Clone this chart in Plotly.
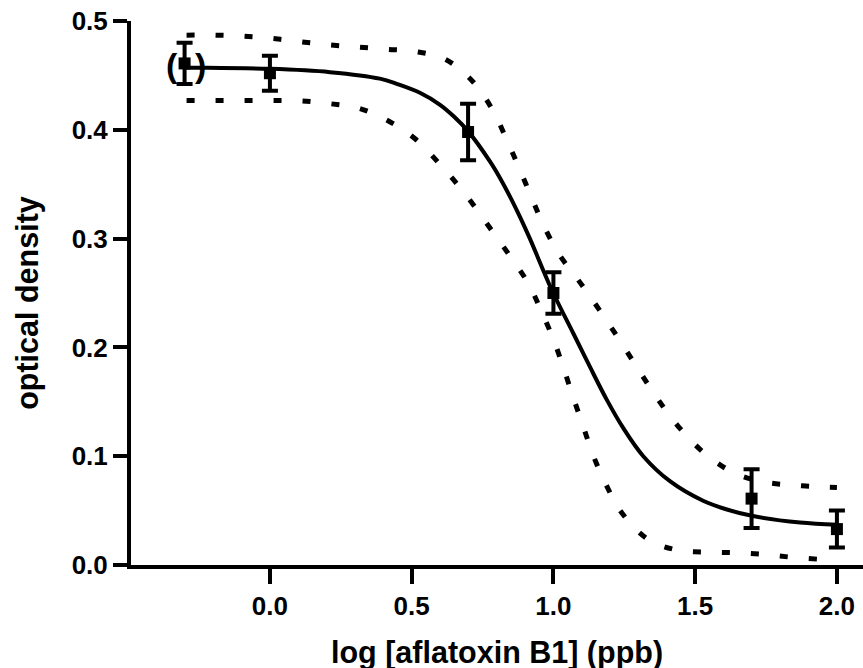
import plotly.graph_objects as go

# measured points (log concentration, mean OD, error)
pt_x = [-0.301, 0.0, 0.699, 1.0, 1.699, 2.0]
pt_y = [0.461, 0.452, 0.398, 0.250, 0.061, 0.033]
pt_err = [0.019, 0.016, 0.026, 0.019, 0.027, 0.017]

# fitted curve
fit_x = [-0.301, -0.236, 0.0, 0.212, 0.388, 0.450, 0.529, 0.600, 0.650, 0.698,
         0.776, 0.811, 0.850, 0.882, 0.917, 0.994, 1.070, 1.129, 1.188, 1.246,
         1.317, 1.411, 1.528, 1.612, 1.704, 1.870, 2.0]
fit_y = [0.457, 0.457, 0.456, 0.453, 0.447, 0.442, 0.434, 0.423, 0.412, 0.399,
         0.371, 0.356, 0.337, 0.320, 0.300, 0.253, 0.213, 0.182, 0.152, 0.126,
         0.100, 0.077, 0.059, 0.051, 0.045, 0.039, 0.037]

# upper confidence band
up_x = [-0.294, -0.194, -0.094, 0.006, 0.106, 0.212, 0.311, 0.412, 0.511, 0.617,
        0.717, 0.786, 0.835, 0.879, 0.921, 0.964, 1.019, 1.093, 1.166, 1.235,
        1.299, 1.364, 1.440, 1.536, 1.637, 1.740, 1.842, 1.944, 2.0]
up_y = [0.487, 0.487, 0.486, 0.484, 0.481, 0.478, 0.476, 0.474, 0.472, 0.465,
        0.444, 0.418, 0.391, 0.365, 0.339, 0.313, 0.286, 0.260, 0.233, 0.206,
        0.180, 0.154, 0.1275, 0.102, 0.0847, 0.0764, 0.0734, 0.0718, 0.0712]

# lower confidence band
lo_x = [-0.294, -0.194, -0.094, 0.006, 0.106, 0.212, 0.311, 0.412, 0.511, 0.611,
        0.696, 0.770, 0.844, 0.911, 0.958, 1.002, 1.037, 1.070, 1.105, 1.140,
        1.185, 1.241, 1.334, 1.435, 1.537, 1.638, 1.740, 1.842, 1.942, 2.0]
lo_y = [0.427, 0.427, 0.427, 0.427, 0.4266, 0.424, 0.420, 0.409, 0.392, 0.365,
        0.3385, 0.312, 0.285, 0.259, 0.233, 0.206, 0.180, 0.154, 0.1275, 0.101,
        0.0743, 0.048, 0.0236, 0.0138, 0.0119, 0.0113, 0.0098, 0.0071, 0.0052, 0.0045]

x_ticks = [0.0, 0.5, 1.0, 1.5, 2.0]
y_ticks = [0.0, 0.1, 0.2, 0.3, 0.4, 0.5]

FONT = "Liberation Sans, Arial, sans-serif"

fig = go.Figure()
for bx, by in [(up_x, up_y), (lo_x, lo_y)]:
    fig.add_trace(go.Scatter(x=bx, y=by, mode="lines",
                             line=dict(color="black", width=5, dash="8px,21px", shape="spline"),
                             hoverinfo="skip"))
fig.add_trace(go.Scatter(x=fit_x, y=fit_y, mode="lines",
                         line=dict(color="black", width=4, shape="spline")))
fig.add_trace(go.Scatter(x=pt_x, y=pt_y, mode="markers",
                         marker=dict(symbol="square", size=12, color="black"),
                         error_y=dict(type="data", array=pt_err, visible=True,
                                      color="black", thickness=4, width=8),
                         cliponaxis=False))

fig.add_annotation(x=pt_x[0], y=pt_y[0], text="(", showarrow=False, xshift=-13, yshift=-2,
                   font=dict(family=FONT, size=34, color="black", weight="bold"))
fig.add_annotation(x=pt_x[0], y=pt_y[0], text=")", showarrow=False, xshift=16, yshift=-2,
                   font=dict(family=FONT, size=34, color="black", weight="bold"))

fig.add_annotation(xref="paper", yref="paper", x=0.5, y=-0.16, text="log [aflatoxin B1] (ppb)",
                   showarrow=False, xanchor="center", yanchor="middle",
                   font=dict(family=FONT, size=30.5, color="black", weight="bold"))
fig.add_annotation(xref="paper", yref="paper", x=-0.1407, y=0.482, text="optical density",
                   showarrow=False, textangle=-90, xanchor="center", yanchor="middle",
                   font=dict(family=FONT, size=30.5, color="black", weight="bold"))

axis_common = dict(showgrid=False, zeroline=False, showline=True, linecolor="black",
                   linewidth=4, ticks="outside", tickwidth=4, tickcolor="black",
                   tickfont=dict(family=FONT, size=26, color="black", weight="bold"))
fig.update_xaxes(range=[-0.49, 2.092], tickvals=x_ticks, tickformat=".1f", ticklen=15,
                 **axis_common)
fig.update_yaxes(range=[0, 0.5], tickvals=y_ticks, tickformat=".1f", ticklen=14,
                 **axis_common)
fig.update_layout(width=863, height=668, margin=dict(l=131, r=0, t=21, b=103),
                  paper_bgcolor="white", plot_bgcolor="white", showlegend=False)

fig.write_html("out.html")
